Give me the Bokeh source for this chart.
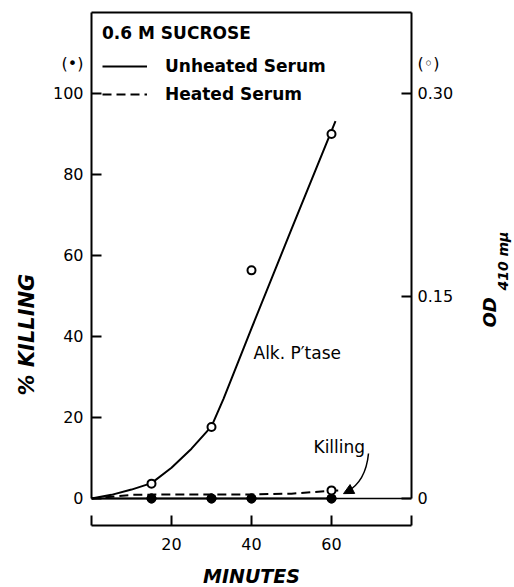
from bokeh.plotting import figure
from bokeh.models import (Range1d, LinearAxis, FixedTicker, Span, Label, Legend,
                          LegendItem, Arrow, NormalHead, Title)
from bokeh.embed import file_html
from bokeh.resources import INLINE
import math

# ---------------- data ----------------
# Killing (% , left axis, filled dots)
killing_minutes = [15, 30, 40, 60]
killing_unheated = [0, 0, 0, 0]
killing_heated = [0, 0, 0, 0]
killing_line_minutes = [0, 15, 30, 40, 60]
killing_line_unheated = [0, 0, 0, 0, 0]

# Alkaline phosphatase (OD 410 mu, right axis, open circles)
alk_minutes = [15, 30, 40, 60]
alk_od_unheated = [0.011, 0.053, 0.169, 0.270]
heated_od_minutes = [60]
heated_od = [0.006]

# drawn (fitted) curves
alk_fit_minutes = [0, 5, 10, 15, 20, 25, 30, 33, 40, 50, 60, 61]
alk_fit_od = [0.0, 0.0027, 0.0066, 0.0114, 0.0228, 0.0369, 0.0534, 0.0738,
              0.126, 0.1995, 0.2724, 0.2796]
heated_fit_minutes = [0, 10, 20, 30, 40, 50, 60, 62]
heated_fit_od = [0.0, 0.0027, 0.003, 0.003, 0.003, 0.0036, 0.0057, 0.006]

x_ticks = [0, 20, 40, 60, 80]
y_ticks = [0, 20, 40, 60, 80, 100]
od_ticks = [0, 0.15, 0.30]
od_labels = {0: "0", 0.15: "0.15", 0.30: "0.30"}

FONT = "DejaVu Sans"

# ---------------- figure ----------------
p = figure(frame_width=320, frame_height=513,
           min_border_left=91, min_border_right=103,
           min_border_top=12, min_border_bottom=62,
           x_range=Range1d(0, 80), y_range=Range1d(-6.67, 120),
           x_axis_location=None, y_axis_location=None,
           output_backend="svg", toolbar_location=None)
p.extra_y_ranges = {"od": Range1d(-0.02, 0.36)}
p.outline_line_color = None
p.grid.visible = False
p.background_fill_color = "white"
p.border_fill_color = "white"


def make_axis(side, ticks, line=True, labels=None, overrides=None, standoff=8,
              size="16px", style="normal", orientation=None, bounds=None,
              range_name=None, tick_in=10):
    kw = {}
    if range_name:
        kw["y_range_name"] = range_name
    if bounds is not None:
        kw["bounds"] = bounds
    ax = LinearAxis(ticker=FixedTicker(ticks=ticks), **kw)
    ax.minor_tick_line_color = None
    if line:
        ax.axis_line_color = "black"
        ax.axis_line_width = 2
        ax.major_tick_line_color = "black"
        ax.major_tick_line_width = 2
        ax.major_tick_in = tick_in
        ax.major_tick_out = 0
    else:
        ax.axis_line_color = None
        ax.major_tick_line_color = None
        ax.major_tick_in = 0
        ax.major_tick_out = 0
    if labels is False:
        ax.major_label_overrides = {t: "" for t in ticks}
        ax.major_label_text_font_size = "0px"
        ax.major_label_standoff = 0
    else:
        if overrides:
            ax.major_label_overrides = overrides
        ax.major_label_standoff = standoff
        ax.major_label_text_font = FONT
        ax.major_label_text_font_size = size
        ax.major_label_text_font_style = style
        ax.major_label_text_color = "black"
    if orientation is not None:
        ax.major_label_orientation = orientation
    p.add_layout(ax, side)
    return ax


# bottom time axis (offset below the zero line)
xaxis = LinearAxis(ticker=FixedTicker(ticks=x_ticks),
                   major_label_overrides={0: "", 80: ""},
                   axis_label="MINUTES")
xaxis.axis_line_color = "black"
xaxis.axis_line_width = 2
xaxis.major_tick_line_color = "black"
xaxis.major_tick_line_width = 2
xaxis.minor_tick_line_color = None
xaxis.major_tick_in = 10
xaxis.major_tick_out = 0
xaxis.major_label_standoff = 12
xaxis.major_label_text_font = FONT
xaxis.major_label_text_font_size = "16px"
xaxis.major_label_text_color = "black"
xaxis.axis_label_standoff = 12
xaxis.axis_label_text_font = FONT
xaxis.axis_label_text_font_size = "19px"
xaxis.axis_label_text_font_style = "bold italic"
xaxis.axis_label_text_color = "black"
p.add_layout(xaxis, "below")

# top border line
make_axis("above", [], line=True, labels=False, tick_in=0)

# left: line + ticks, then labels, then rotated title
make_axis("left", y_ticks, line=True, labels=False, bounds=(0, 120))
make_axis("left", y_ticks + [107.4], line=False,
          overrides={107.4: "(•)"}, standoff=8)
p.add_layout(Title(text="% KILLING", align="left", offset=130, standoff=22,
                   text_font=FONT, text_font_size="21px",
                   text_font_style="bold italic", text_color="black"), "left")

# right: line + ticks, then labels, then rotated OD title with subscript
make_axis("right", od_ticks, line=True, labels=False, bounds=(0, 0.36),
          range_name="od")
make_axis("right", od_ticks + [0.3222], line=False,
          overrides={**od_labels, 0.3222: "(◦)"}, standoff=6, range_name="od")
make_axis("right", [0.1267], line=False, overrides={0.1267: "OD"}, standoff=33,
          size="18px", style="bold italic", orientation=math.pi / 2,
          range_name="od")
make_axis("right", [0.154], line=False, overrides={0.154: "410 mµ"}, standoff=-10,
          size="14px", style="bold italic", orientation=math.pi / 2,
          range_name="od")

p.add_layout(Span(location=0, dimension="width", line_color="black", line_width=1.5))

# ---------------- marks ----------------
p.line(killing_line_minutes, killing_line_unheated, line_color="black", line_width=2.2)
r_unheated = p.line(alk_fit_minutes, alk_fit_od, y_range_name="od",
                    line_color="black", line_width=2)
r_heated = p.line(heated_fit_minutes, heated_fit_od, y_range_name="od",
                  line_color="black", line_width=2, line_dash="9 5")
p.scatter(killing_minutes, killing_heated, marker="circle", size=9,
          fill_color="black", line_color="black")
p.scatter(killing_minutes, killing_unheated, marker="circle", size=9,
          fill_color="black", line_color="black")
p.scatter(alk_minutes, alk_od_unheated, y_range_name="od", marker="circle", size=8,
          fill_color="white", line_color="black", line_width=2)
p.scatter(heated_od_minutes, heated_od, y_range_name="od", marker="circle", size=8,
          fill_color="white", line_color="black", line_width=2)

# ---------------- annotations ----------------
legend = Legend(items=[LegendItem(label="Unheated Serum", renderers=[r_unheated]),
                       LegendItem(label="Heated Serum", renderers=[r_heated])],
                title="0.6 M SUCROSE", location="top_left")
legend.title_text_font = FONT
legend.title_text_font_size = "17px"
legend.title_text_font_style = "bold"
legend.title_text_color = "black"
legend.title_standoff = 10
legend.label_text_font = FONT
legend.label_text_font_size = "17px"
legend.label_text_font_style = "bold"
legend.label_text_color = "black"
legend.glyph_width = 45
legend.glyph_height = 20
legend.label_height = 25
legend.label_standoff = 18
legend.spacing = 3
legend.padding = 6
legend.margin = 11
legend.border_line_color = None
legend.background_fill_alpha = 0
p.add_layout(legend)

for x, y, text in [(40.5, 36, "Alk. P′tase"), (55.5, 12.8, "Killing")]:
    p.add_layout(Label(x=x, y=y, text=text, text_font=FONT, text_font_size="17px",
                       text_color="black", text_align="left",
                       text_baseline="alphabetic"))

p.bezier(x0=[69.25], y0=[11.1], x1=[63.8], y1=[1.6], cx0=[68.8], cy0=[6.5],
         cx1=[66.8], cy1=[3.2], line_color="black", line_width=1.5)
p.add_layout(Arrow(end=NormalHead(size=10, fill_color="black", line_color="black"),
                   x_start=66.5, y_start=3.0, x_end=63.0, y_end=1.2,
                   line_color=None))

open("out.html", "w").write(file_html(p, INLINE))
